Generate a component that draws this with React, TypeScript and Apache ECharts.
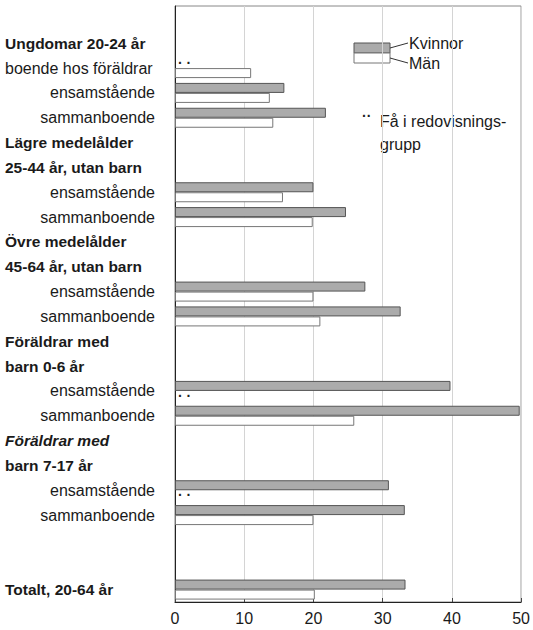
import React, { useEffect, useRef } from 'react';
import * as echarts from 'echarts';

const FEW = '..';
const EMPTY = '-';

const rowIds = Array.from({ length: 24 }, (_, i) => 'r' + i);

const leftLabels = [
  '', 'Ungdomar 20-24 år', 'boende hos föräldrar', '', '',
  'Lägre medelålder', '25-44 år, utan barn', '', '',
  'Övre medelålder', '45-64 år, utan barn', '', '',
  'Föräldrar med', 'barn 0-6 år', '', '',
  'Föräldrar med', 'barn 7-17 år', '', '',
  '', '', 'Totalt, 20-64 år',
];
const leftStyles = [
  '', 'b', 'r', '', '',
  'b', 'b', '', '',
  'b', 'b', '', '',
  'b', 'b', '', '',
  'bi', 'b', '', '',
  '', '', 'b',
];
const rightLabels = [
  '', '', '', 'ensamstående', 'sammanboende',
  '', '', 'ensamstående', 'sammanboende',
  '', '', 'ensamstående', 'sammanboende',
  '', '', 'ensamstående', 'sammanboende',
  '', '', 'ensamstående', 'sammanboende',
  '', '', '',
];

const kvinnor: (number | string)[] = [
  EMPTY, EMPTY, FEW, 15.8, 21.8,
  EMPTY, EMPTY, 20.0, 24.7,
  EMPTY, EMPTY, 27.5, 32.6,
  EMPTY, EMPTY, 39.8, 49.8,
  EMPTY, EMPTY, 30.9, 33.2,
  EMPTY, EMPTY, 33.3,
];
const man: (number | string)[] = [
  EMPTY, EMPTY, 11.0, 13.7, 14.2,
  EMPTY, EMPTY, 15.6, 19.9,
  EMPTY, EMPTY, 20.0, 21.0,
  EMPTY, EMPTY, FEW, 25.9,
  EMPTY, EMPTY, FEW, 20.0,
  EMPTY, EMPTY, 20.2,
];

const xTicks = { min: 0, max: 50, interval: 10 };
const legendNames = ['Kvinnor', 'Män'];
const noteLines = ['Få i redovisnings-', 'grupp'];

const FONT = '"Liberation Sans", Arial, Helvetica, sans-serif';
const TEXT = '#1a1a1a';

function toData(arr: (number | string)[]) {
  return arr.map((v) => {
    if (v === FEW) {
      return {
        value: 0,
        itemStyle: { color: 'transparent', borderWidth: 0 },
        label: {
          show: true,
          position: 'right',
          formatter: '· ·',
          fontSize: 14,
          fontWeight: 'bold',
          color: '#222',
          distance: 3,
          fontFamily: FONT,
        },
      };
    }
    return v;
  });
}

export default function App() {
  const ref = useRef<HTMLDivElement>(null);
  useEffect(() => {
    document.body.style.margin = '0';
    const chart = echarts.init(ref.current!, null, { renderer: 'svg' });
    const option: any = {
      animation: false,
      backgroundColor: '#fff',
      textStyle: { fontFamily: FONT },
      grid: {
        left: 175, right: 10, top: 6, bottom: 28,
        show: true, borderColor: '#888', borderWidth: 1,
      },
      xAxis: {
        type: 'value',
        min: xTicks.min, max: xTicks.max, interval: xTicks.interval,
        axisLine: { show: true, lineStyle: { color: '#222', width: 1 } },
        axisTick: { show: true, inside: true, length: 4, lineStyle: { color: '#444' } },
        splitLine: { show: true, lineStyle: { color: '#d4d4d4', width: 1 } },
        axisLabel: { fontSize: 16, color: TEXT, margin: 8, fontFamily: FONT },
      },
      yAxis: [
        {
          type: 'category',
          data: rowIds,
          inverse: true,
          position: 'left',
          axisLine: { show: true, lineStyle: { color: '#222', width: 1 } },
          axisTick: { show: false },
          axisLabel: {
            interval: 0,
            margin: 20,
            align: 'right',
            fontSize: 16,
            color: TEXT,
            fontFamily: FONT,
            formatter: (_v: string, i: number) => rightLabels[i],
          },
        },
        {
          type: 'category',
          data: rowIds,
          inverse: true,
          position: 'left',
          axisLine: { show: false },
          axisTick: { show: false },
          axisLabel: {
            interval: 0,
            margin: 170,
            align: 'left',
            color: TEXT,
            fontFamily: FONT,
            formatter: (_v: string, i: number) =>
              leftLabels[i] ? '{' + leftStyles[i] + '|' + leftLabels[i] + '}' : '',
            rich: {
              b: { fontWeight: 'bold', fontSize: 15.5, color: TEXT, fontFamily: FONT },
              bi: { fontWeight: 'bold', fontStyle: 'italic', fontSize: 15.5, color: TEXT, fontFamily: FONT },
              r: { fontSize: 16, color: TEXT, fontFamily: FONT },
            },
          },
        },
      ],
      series: [
        {
          name: legendNames[0],
          type: 'bar',
          yAxisIndex: 0,
          barWidth: 10,
          barGap: '0%',
          data: toData(kvinnor),
          itemStyle: { color: '#ababab', borderColor: '#555', borderWidth: 1 },
        },
        {
          name: legendNames[1],
          type: 'bar',
          yAxisIndex: 0,
          barWidth: 10,
          barGap: '0%',
          data: toData(man),
          itemStyle: { color: '#fff', borderColor: '#777', borderWidth: 1 },
        },
      ],
      graphic: [
        { type: 'rect', shape: { x: 354, y: 43, width: 36, height: 10 }, style: { fill: '#ababab', stroke: '#555', lineWidth: 1 } },
        { type: 'rect', shape: { x: 354, y: 53, width: 36, height: 10 }, style: { fill: '#fff', stroke: '#777', lineWidth: 1 } },
        { type: 'line', shape: { x1: 390, y1: 48, x2: 408, y2: 43 }, style: { stroke: '#333', lineWidth: 1 } },
        { type: 'line', shape: { x1: 390, y1: 58, x2: 408, y2: 63 }, style: { stroke: '#333', lineWidth: 1 } },
        { type: 'text', x: 409, y: 43, style: { text: legendNames[0], fontSize: 16, fill: TEXT, fontFamily: FONT, textVerticalAlign: 'middle', verticalAlign: 'middle' } },
        { type: 'text', x: 409, y: 63, style: { text: legendNames[1], fontSize: 16, fill: TEXT, fontFamily: FONT, textVerticalAlign: 'middle', verticalAlign: 'middle' } },
        { type: 'text', x: 362, y: 116, style: { text: '··', fontSize: 14, fontWeight: 'bold', fill: '#222', fontFamily: FONT, verticalAlign: 'middle' } },
        { type: 'text', x: 380, y: 121, style: { text: noteLines[0], fontSize: 16, fill: TEXT, fontFamily: FONT, verticalAlign: 'middle' } },
        { type: 'text', x: 380, y: 144, style: { text: noteLines[1], fontSize: 16, fill: TEXT, fontFamily: FONT, verticalAlign: 'middle' } },
      ],
    };
    chart.setOption(option);
    return () => chart.dispose();
  }, []);
  return <div ref={ref} style={{ width: 533, height: 630 }} />;
}
